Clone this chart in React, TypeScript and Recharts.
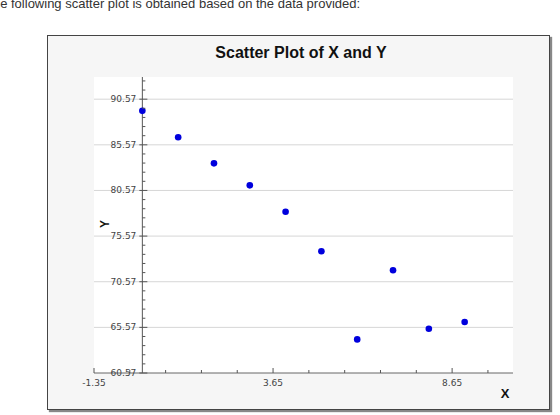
import { ScatterChart, Scatter, XAxis, YAxis, ReferenceLine, CartesianGrid } from 'recharts';

const X_VALUES = [0, 1, 2, 3, 4, 5, 6, 7, 8, 9];
const Y_VALUES = [89.29, 86.4, 83.54, 81.13, 78.23, 73.91, 64.25, 71.83, 65.42, 66.15];

const X_TICKS = [-1.35, -0.35, 0.65, 1.65, 2.65, 3.65, 4.65, 5.65, 6.65, 7.65, 8.65, 9.65];
const X_LABELS = [-1.35, 3.65, 8.65];
const Y_TICKS = [
  60.57, 61.57, 62.57, 63.57, 64.57, 65.57, 66.57, 67.57, 68.57, 69.57, 70.57,
  71.57, 72.57, 73.57, 74.57, 75.57, 76.57, 77.57, 78.57, 79.57, 80.57, 81.57,
  82.57, 83.57, 84.57, 85.57, 86.57, 87.57, 88.57, 89.57, 90.57, 91.57, 92.57,
];
const Y_LABELS = [60.57, 65.57, 70.57, 75.57, 80.57, 85.57, 90.57];

const X_MIN = -1.35;
const X_MAX = 10.35;
const Y_MIN = 60.57;
const Y_MAX = 93.0;

const data = X_VALUES.map((x, i) => ({ x, y: Y_VALUES[i] }));

const W = 501;
const H = 373;
const MARGIN = { top: 41, right: 36, left: 45, bottom: 0 };
const Y_AXIS_W = 1;
const PLOT_W = W - MARGIN.left - Y_AXIS_W - MARGIN.right;
// y axis line sits at x = 0 inside the plot
const AXIS_OFFSET = ((0 - X_MIN) / (X_MAX - X_MIN)) * PLOT_W;

const TICK_FONT = { fontFamily: 'DejaVu Sans', fontSize: 9, fill: '#444' };

const isLabel = (list: number[], v: number) => list.some((l) => Math.abs(l - v) < 1e-6);

function YTick(props: any) {
  const { x, y, payload } = props;
  const ax = x + AXIS_OFFSET;
  const major = isLabel(Y_LABELS, payload.value);
  return (
    <g>
      <line x1={major ? ax - 3 : ax} x2={ax + (major ? 5 : 3)} y1={y} y2={y} stroke="#555" />
      {major && (
        <text x={ax - 6} y={y} textAnchor="end" dominantBaseline="central" {...TICK_FONT}>
          {payload.value.toFixed(2)}
        </text>
      )}
    </g>
  );
}

function XTick(props: any) {
  const { x, y, payload } = props;
  const major = isLabel(X_LABELS, payload.value);
  return (
    <g>
      <line x1={x} x2={x} y1={y} y2={y - (major ? 5 : 3)} stroke="#555" />
      {major && (
        <text x={x} y={y + 10} textAnchor="middle" dominantBaseline="central" {...TICK_FONT}>
          {payload.value.toFixed(2)}
        </text>
      )}
    </g>
  );
}

export default function App() {
  return (
    <div
      style={{
        position: 'absolute',
        left: 0,
        top: 0,
        width: 560,
        height: 415,
        overflow: 'hidden',
        background: '#fff',
        fontFamily: '"Liberation Sans", Arial, sans-serif',
      }}
    >
      <div
        style={{
          position: 'absolute',
          left: -15,
          top: -4,
          fontSize: 13,
          lineHeight: '15px',
          color: '#333',
          whiteSpace: 'nowrap',
        }}
      >
        The following scatter plot is obtained based on the data provided:
      </div>
      <div
        style={{
          position: 'absolute',
          left: 47,
          top: 35,
          width: W,
          height: H,
          border: '1px solid #444',
          background: '#f6f6f6',
          boxShadow: '2px 2px 1px #888',
        }}
      >
        <ScatterChart width={W} height={H} margin={MARGIN}>
          <CartesianGrid fill="#fff" horizontal={false} vertical={false} />
          <XAxis
            type="number"
            dataKey="x"
            domain={[X_MIN, X_MAX]}
            ticks={X_TICKS}
            interval={0}
            height={36}
            tickSize={0}
            tickMargin={0}
            axisLine={{ stroke: '#666' }}
            tickLine={false}
            tick={<XTick />}
            allowDataOverflow
          />
          <YAxis
            type="number"
            dataKey="y"
            domain={[Y_MIN, Y_MAX]}
            ticks={Y_TICKS}
            interval={0}
            width={Y_AXIS_W}
            tickSize={0}
            tickMargin={0}
            axisLine={false}
            tickLine={false}
            tick={<YTick />}
            allowDataOverflow
          />
          {Y_LABELS.slice(1).map((v) => (
            <ReferenceLine key={v} y={v} stroke="#d6d6d6" />
          ))}
          <ReferenceLine x={0} stroke="#555" />
          <Scatter
            data={data}
            isAnimationActive={false}
            shape={(p: any) => <circle cx={p.cx} cy={p.cy} r={3.3} fill="#0000dd" />}
          />
          <text
            x={253}
            y={16}
            textAnchor="middle"
            dominantBaseline="central"
            fontFamily="Liberation Sans, Arial, sans-serif"
            fontWeight="bold"
            fontSize={16}
            fill="#111"
          >
            Scatter Plot of X and Y
          </text>
          <text
            x={57}
            y={188}
            textAnchor="middle"
            dominantBaseline="central"
            transform="rotate(-90 57 188)"
            fontFamily="Liberation Sans, Arial, sans-serif"
            fontWeight="bold"
            fontSize={12}
            fill="#111"
          >
            Y
          </text>
          <text
            x={457}
            y={357}
            textAnchor="middle"
            dominantBaseline="central"
            fontFamily="Liberation Sans, Arial, sans-serif"
            fontWeight="bold"
            fontSize={13}
            fill="#111"
          >
            X
          </text>
        </ScatterChart>
      </div>
    </div>
  );
}
